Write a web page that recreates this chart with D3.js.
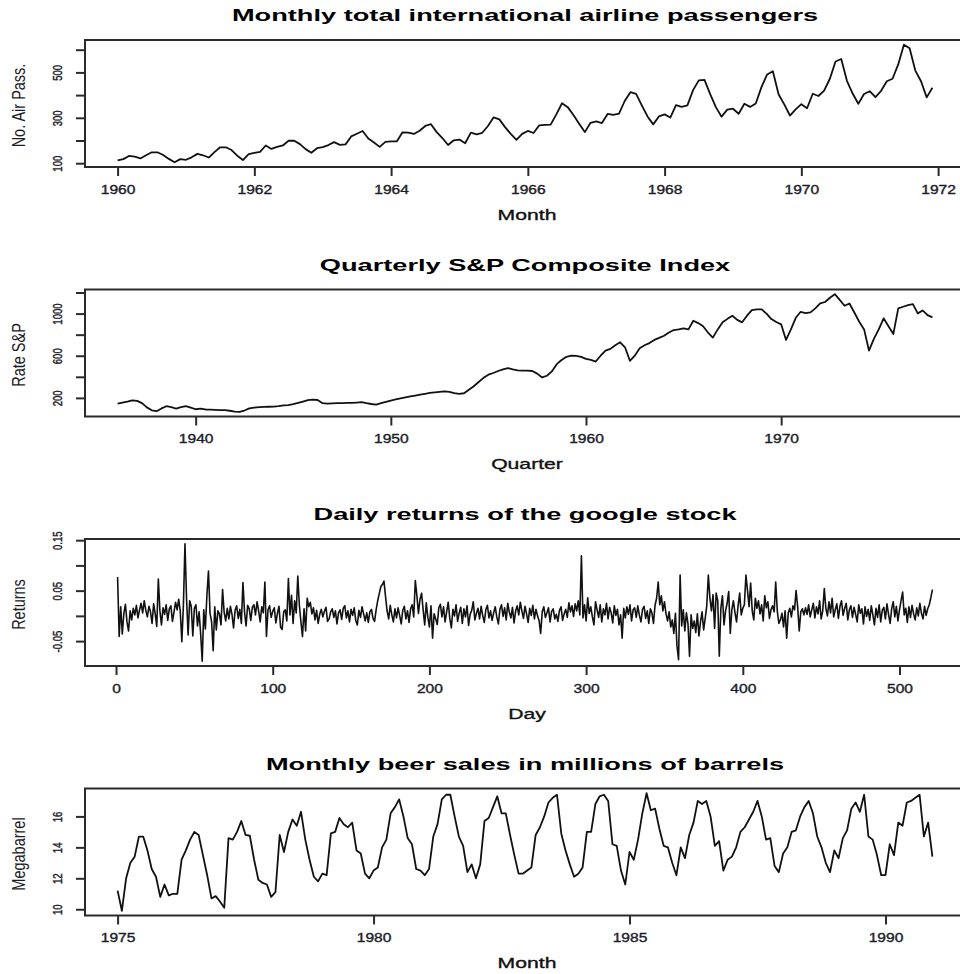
<!DOCTYPE html>
<html>
<head>
<meta charset="utf-8">
<script src="https://cdn.jsdelivr.net/npm/d3@7"></script>
<style>
  html, body { margin: 0; padding: 0; background: #fff; }
  svg { display: block; }
  text { font-family: "Liberation Sans", Arial, Helvetica, sans-serif; }
</style>
</head>
<body>
<svg id="chart" width="960" height="974"></svg>
<script>
// ---------- Monthly airline passengers (thousands), Jan 1960 - Dec 1971 ----------
const airStart = 1960;
const airPassengers = [
  112, 118, 132, 129, 121, 135, 148, 148, 136, 119, 104, 118,
  115, 126, 141, 135, 125, 149, 170, 170, 158, 133, 114, 140,
  145, 150, 178, 163, 172, 178, 199, 199, 184, 162, 146, 166,
  171, 180, 193, 181, 183, 218, 230, 242, 209, 191, 172, 194,
  196, 196, 236, 235, 229, 243, 264, 272, 237, 211, 180, 201,
  204, 188, 235, 227, 234, 264, 302, 293, 259, 229, 203, 229,
  242, 233, 267, 269, 270, 315, 364, 347, 312, 274, 237, 278,
  284, 277, 317, 313, 318, 374, 413, 405, 355, 306, 271, 306,
  315, 301, 356, 348, 355, 422, 465, 467, 404, 347, 305, 336,
  340, 318, 362, 348, 363, 435, 491, 505, 404, 359, 310, 337,
  360, 342, 406, 396, 420, 472, 548, 559, 463, 407, 362, 405,
  417, 391, 419, 461, 472, 535, 622, 606, 508, 461, 390, 432
];
const airYearTicks = [1960, 1962, 1964, 1966, 1968, 1970, 1972];
const airPassTicks = [100, 200, 300, 400, 500, 600];
const airPassTickLabels = ["100", "", "300", "", "500", ""];

// ---------- Quarterly S&P composite index, 1936 Q1 - 1977 Q4 ----------
const spStart = 1936;
const spIndex = [
  146, 155, 165, 177,   172, 150, 110, 82,    74, 100, 121, 112,
  99, 112, 121, 108,    92, 98, 90, 88,       86, 84, 83, 78,
  70, 68, 80, 100,      108, 112, 114, 116,   118, 122, 128, 132,
  140, 152, 165, 178,   184, 180, 150, 146,   148, 150, 151, 152,
  153, 156, 160, 150,   142, 137, 150, 162,   175, 185, 195, 205,
  215, 222, 230, 238,   247, 252, 258, 262,   258, 245, 238, 244,
  278, 310, 351, 390,   420, 436, 455, 470,   483, 470, 462, 458,
  458, 455, 430, 394,   410, 451, 520, 560,   590, 600, 599, 590,
  571, 560, 545, 600,   649, 665, 700, 728,   680, 552, 600, 672,
  700, 720, 750, 770,   790, 820, 844, 850,   860, 850, 932, 910,
  880, 820, 772, 850,   917, 950, 979, 940,   917, 980, 1033, 1040,
  1040, 1000, 948, 920, 898, 750, 850, 960,   1017, 1005, 1011, 1050,
  1096, 1110, 1150, 1184, 1130, 1074, 1096, 1010, 923, 850, 649, 760,
  850, 955, 880, 807,   1049, 1065, 1080, 1090, 1002, 1030, 985, 964
];
const spYearTicks = [1940, 1950, 1960, 1970];
const spTicks = [200, 400, 600, 800, 1000, 1200];
const spTickLabels = ["200", "", "600", "", "1000", ""];

// ---------- Daily returns of the google stock, days 1 - 521 ----------
const googleReturns = [
  0.077, -0.041, 0.018, -0.036, 0.005, 0.023, -0.012, -0.030, 0.010, -0.008, 0.015, 0.002, 0.021, -0.004, 0.012, 0.025, 0.006, 0.030, 0.011, -0.002,
  0.019, 0.008, -0.015, 0.024, 0.004, -0.021, 0.073, 0.010, -0.018, 0.016, 0.003, 0.022, -0.009, 0.014, 0.020, -0.011, 0.008, 0.027, 0.012, 0.033,
  0.009, -0.051, 0.021, 0.143, 0.035, -0.038, 0.030, 0.019, -0.040, 0.015, 0.022, -0.020, 0.008, -0.035, -0.090, 0.012, -0.026, 0.041, 0.089, 0.005,
  -0.012, -0.069, 0.018, -0.028, 0.010, 0.004, -0.018, 0.052, 0.007, -0.010, 0.015, -0.006, 0.019, 0.003, -0.024, 0.011, 0.020, -0.005, 0.013, -0.015,
  0.066, 0.008, -0.020, 0.021, 0.014, -0.009, 0.017, 0.022, 0.002, 0.028, 0.010, -0.012, 0.018, 0.006, 0.067, -0.041, 0.012, 0.020, -0.003, 0.009,
  0.016, -0.014, 0.005, 0.019, -0.022, -0.027, 0.008, 0.012, -0.010, 0.074, 0.002, 0.041, -0.015, 0.030, 0.006, 0.079, 0.021, -0.012, -0.041, 0.014,
  -0.030, 0.035, 0.018, 0.027, 0.004, 0.016, -0.008, 0.011, -0.015, 0.003, 0.013, -0.002, 0.009, 0.017, -0.011, -0.006, 0.008, 0.014, -0.003, 0.010,
  -0.016, 0.006, 0.012, -0.007, 0.015, 0.020, -0.004, 0.010, -0.012, 0.013, 0.001, 0.016, -0.009, -0.018, 0.011, -0.003, 0.018, 0.004, -0.010, 0.006,
  -0.013, 0.008, 0.013, -0.005, -0.011, 0.012, 0.030, 0.044, 0.058, 0.062, 0.069, 0.038, 0.010, -0.006, 0.021, 0.002, -0.012, 0.014, -0.004, 0.016,
  0.001, -0.016, 0.011, 0.019, -0.006, 0.010, -0.013, 0.014, 0.022, -0.002, 0.070, 0.040, 0.005, 0.033, 0.045, 0.012, -0.018, 0.026, -0.003, -0.022,
  0.020, -0.044, 0.004, -0.006, -0.017, 0.016, 0.023, -0.002, 0.018, -0.012, 0.008, 0.027, -0.005, -0.024, 0.013, 0.000, 0.022, -0.011, 0.006, 0.017,
  -0.015, 0.014, -0.002, 0.020, -0.019, 0.003, 0.011, 0.028, -0.008, 0.005, 0.015, -0.006, 0.019, 0.001, -0.013, 0.012, 0.021, -0.004, 0.010, -0.009,
  0.006, 0.018, -0.002, -0.016, 0.013, 0.022, -0.001, 0.016, -0.008, 0.025, 0.007, -0.004, 0.017, -0.014, 0.009, 0.020, 0.002, 0.027, 0.010, -0.005,
  0.019, 0.004, -0.013, 0.015, 0.001, 0.021, -0.006, 0.013, 0.000, -0.009, -0.035, 0.008, 0.018, -0.003, 0.006, 0.016, -0.012, 0.009, 0.014, -0.006,
  0.003, -0.011, 0.011, 0.018, -0.009, 0.004, 0.013, -0.003, 0.026, 0.008, 0.020, -0.001, 0.024, 0.010, 0.030, 0.002, 0.119, -0.004, 0.022, -0.010,
  0.036, 0.005, 0.018, -0.002, -0.018, 0.028, 0.012, -0.003, 0.022, -0.012, 0.014, 0.002, 0.025, -0.006, 0.017, 0.006, -0.014, 0.020, 0.001, 0.013,
  -0.018, 0.002, -0.044, 0.015, -0.004, 0.018, 0.003, 0.022, -0.010, 0.012, 0.016, -0.003, 0.020, 0.001, -0.012, 0.013, 0.019, -0.005, 0.010, -0.015,
  0.014, 0.006, -0.015, 0.021, 0.035, 0.067, 0.022, 0.040, 0.010, 0.028, 0.004, -0.010, 0.008, -0.022, -0.008, -0.035, 0.005, -0.060, -0.087, 0.081,
  -0.020, 0.012, -0.030, 0.006, -0.015, -0.080, 0.002, -0.025, -0.010, -0.033, 0.004, -0.040, -0.012, 0.008, -0.028, -0.005, 0.020, 0.081, 0.035, 0.010,
  0.042, -0.025, 0.045, 0.030, -0.080, 0.015, 0.040, -0.018, 0.010, 0.025, 0.048, -0.035, 0.012, 0.030, 0.006, -0.012, 0.020, 0.045, 0.002, 0.015,
  0.022, 0.081, 0.050, 0.018, 0.065, 0.010, -0.008, 0.035, 0.015, 0.030, 0.004, 0.022, -0.010, 0.040, 0.016, 0.028, -0.005, 0.012, 0.020, 0.008,
  0.067, 0.010, -0.015, -0.008, 0.005, -0.022, 0.010, -0.044, 0.006, 0.015, -0.002, 0.020, 0.012, 0.050, 0.018, -0.030, 0.008, 0.014, 0.002, 0.016,
  0.003, 0.022, -0.002, 0.012, 0.025, -0.004, 0.018, 0.004, 0.030, -0.006, 0.010, 0.054, 0.015, 0.000, 0.028, 0.006, 0.035, -0.002, 0.012, 0.024,
  -0.005, 0.019, 0.030, 0.001, 0.015, 0.025, -0.008, 0.012, 0.020, -0.003, 0.017, 0.003, -0.012, 0.022, 0.005, 0.014, -0.016, 0.018, -0.001, 0.013,
  -0.009, 0.020, 0.002, -0.018, 0.015, -0.003, 0.022, -0.012, 0.011, 0.017, -0.006, 0.024, 0.003, -0.015, 0.014, 0.028, -0.002, 0.019, -0.010, 0.012,
  0.030, 0.047, 0.002, 0.015, -0.013, 0.018, -0.003, 0.021, 0.004, -0.008, 0.016, 0.000, 0.025, 0.005, -0.006, 0.019, 0.001, 0.014, 0.022, 0.036,
  0.052
];
const dayTicks = [0, 100, 200, 300, 400, 500];
const returnTicks = [-0.05, 0.00, 0.05, 0.10, 0.15];
const returnTickLabels = ["-0.05", "", "0.05", "", "0.15"];

// ---------- Monthly beer sales (millions of barrels), Jan 1975 - Dec 1990 ----------
const beerStart = 1975;
const beerSales = [
  11.2, 9.9, 12.0, 13.0, 13.4, 14.7, 14.7, 13.8, 12.6, 12.1, 10.8, 11.6,
  10.9, 11.0, 11.0, 13.2, 13.8, 14.5, 15.0, 14.8, 13.5, 12.2, 10.7, 10.85,
  10.5, 10.1, 14.6, 14.5, 15.0, 15.7, 14.8, 14.75, 13.2, 11.9, 11.7, 11.6,
  10.8, 11.1, 14.8, 13.7, 15.0, 15.8, 15.4, 16.3, 14.5, 13.2, 12.1, 11.8,
  12.3, 12.2, 14.9, 15.0, 15.9, 15.5, 15.3, 15.6, 13.8, 13.6, 12.3, 12.0,
  12.5, 12.7, 14.0, 14.5, 16.2, 16.6, 17.1, 16.0, 14.6, 14.2, 12.6, 12.5,
  12.2, 12.6, 14.7, 15.5, 17.1, 17.4, 17.4, 16.0, 14.7, 14.1, 12.4, 12.9,
  12.0, 12.9, 15.7, 15.9, 16.6, 17.3, 16.2, 16.2, 14.8, 13.5, 12.3, 12.3,
  12.5, 12.7, 14.8, 15.3, 16.0, 16.9, 17.2, 17.4, 14.9, 13.8, 12.9, 12.1,
  12.3, 12.7, 15.0, 15.0, 16.8, 17.3, 17.4, 17.0, 14.2, 14.1, 12.5, 11.6,
  13.7, 13.2, 14.5, 16.2, 17.5, 16.4, 16.5, 15.2, 14.1, 14.0, 13.0, 12.2,
  14.0, 13.3, 14.8, 15.6, 17.0, 16.8, 17.0, 16.0, 14.1, 14.4, 12.5, 13.2,
  13.4, 14.0, 15.0, 15.3, 15.8, 16.3, 17.0, 16.0, 14.5, 14.6, 12.8, 12.4,
  13.6, 14.0, 15.0, 15.1, 16.0, 16.6, 17.0, 16.2, 14.7, 14.0, 13.0, 12.4,
  13.8, 13.3, 14.6, 15.1, 16.5, 16.9, 16.3, 17.4, 14.7, 14.5, 13.5, 12.2,
  12.2, 14.2, 13.5, 15.6, 15.4, 16.9, 17.0, 17.2, 17.4, 14.7, 15.6, 13.4
];
const beerYearTicks = [1975, 1980, 1985, 1990];
const beerTicks = [10, 12, 14, 16];
const beerTickLabels = ["10", "12", "14", "16"];

// ---------- Text ----------
const titles = [
  "Monthly total international airline passengers",
  "Quarterly S&P Composite Index",
  "Daily returns of the google stock",
  "Monthly beer sales in millions of barrels"
];
const xTitles = ["Month", "Quarter", "Day", "Month"];
const yTitles = ["No. Air Pass.", "Rate S&P", "Returns", "Megabarrel"];

// ---------- Panel definitions ----------
const panels = [
  { start: airStart, freq: 12, values: airPassengers, xTicks: airYearTicks,
    yTicks: airPassTicks, yTickLabels: airPassTickLabels },
  { start: spStart, freq: 4, values: spIndex, xTicks: spYearTicks,
    yTicks: spTicks, yTickLabels: spTickLabels },
  { start: 1, freq: 1, values: googleReturns, xTicks: dayTicks,
    yTicks: returnTicks, yTickLabels: returnTickLabels },
  { start: beerStart, freq: 12, values: beerSales, xTicks: beerYearTicks,
    yTicks: beerTicks, yTickLabels: beerTickLabels }
];

// ---------- Layout ----------
const plotLeft = 85, plotRight = 965;
const boxHeight = 127, firstTop = 40, panelStep = 249.5;
const ink = "#111", frame = "#2b2b2b", labelInk = "#1c1c28";

const svg = d3.select("#chart");

// expand an extent by 4% on each side (base-graphics style)
const pad = ([a, b]) => [a - (b - a) * 0.04, b + (b - a) * 0.04];

// slightly heavier glyphs for the small labels
const heavy = sel => sel.attr("stroke", labelInk).attr("stroke-width", 0.35).attr("paint-order", "stroke");

panels.forEach((p, i) => {
  const top = firstTop + i * panelStep;
  const bottom = top + boxHeight;
  const times = p.values.map((v, k) => p.start + k / p.freq);

  const x = d3.scaleLinear().domain(pad(d3.extent(times))).range([plotLeft, plotRight]);
  const y = d3.scaleLinear().domain(pad(d3.extent(p.values))).range([bottom, top]);

  const g = svg.append("g").attr("class", "panel");

  // series line
  g.append("path")
    .datum(p.values)
    .attr("fill", "none")
    .attr("stroke", ink)
    .attr("stroke-width", i === 2 ? 1.6 : 1.8)
    .attr("stroke-linejoin", "round")
    .attr("d", d3.line().x((v, k) => x(times[k])).y(v => y(v)));

  // frame
  g.append("rect")
    .attr("x", plotLeft).attr("y", top)
    .attr("width", plotRight - plotLeft).attr("height", boxHeight)
    .attr("fill", "none").attr("stroke", frame).attr("stroke-width", 2);

  // x axis
  const xa = g.append("g")
    .attr("transform", `translate(0,${bottom})`)
    .call(d3.axisBottom(x).tickValues(p.xTicks).tickSize(9).tickFormat(d => String(d)));
  xa.select(".domain").remove();
  xa.selectAll(".tick line").attr("stroke", frame).attr("stroke-width", 2);
  xa.selectAll(".tick text")
    .attr("y", null).attr("dy", null)
    .attr("transform", "translate(0,26.6) scale(1.3,1)")
    .attr("text-anchor", "middle")
    .attr("fill", labelInk)
    .style("font-size", "12px")
    .call(heavy);

  // y axis
  const labelOf = new Map(p.yTicks.map((t, k) => [t, p.yTickLabels[k]]));
  const ya = g.append("g")
    .attr("transform", `translate(${plotLeft},0)`)
    .call(d3.axisLeft(y).tickValues(p.yTicks).tickSize(9).tickFormat(d => labelOf.get(d)));
  ya.select(".domain").remove();
  ya.selectAll(".tick line").attr("stroke", frame).attr("stroke-width", 2);
  ya.selectAll(".tick text")
    .attr("x", null).attr("dy", null)
    .attr("transform", "translate(-23.3,0) scale(1.25,1) rotate(-90)")
    .attr("text-anchor", "middle")
    .attr("fill", labelInk)
    .style("font-size", "9.5px")
    .call(heavy);

  const cx = (plotLeft + plotRight) / 2;

  // panel title
  g.append("text")
    .attr("transform", `translate(${cx},${top - 19}) scale(1.6,1)`)
    .attr("text-anchor", "middle")
    .attr("fill", "#000")
    .style("font-size", "17px")
    .style("font-weight", "bold")
    .text(titles[i]);

  // x title
  g.append("text")
    .attr("transform", `translate(${cx + 2},${bottom + 52.6}) scale(1.46,1)`)
    .attr("text-anchor", "middle")
    .attr("fill", "#111")
    .style("font-size", "14.5px")
    .text(xTitles[i])
    .call(heavy);

  // y title
  g.append("text")
    .attr("transform", `translate(25,${(top + bottom) / 2 + 2}) scale(1.3,1) rotate(-90)`)
    .attr("text-anchor", "middle")
    .attr("fill", labelInk)
    .style("font-size", "14.5px")
    .text(yTitles[i]);
});
</script>
</body>
</html>
